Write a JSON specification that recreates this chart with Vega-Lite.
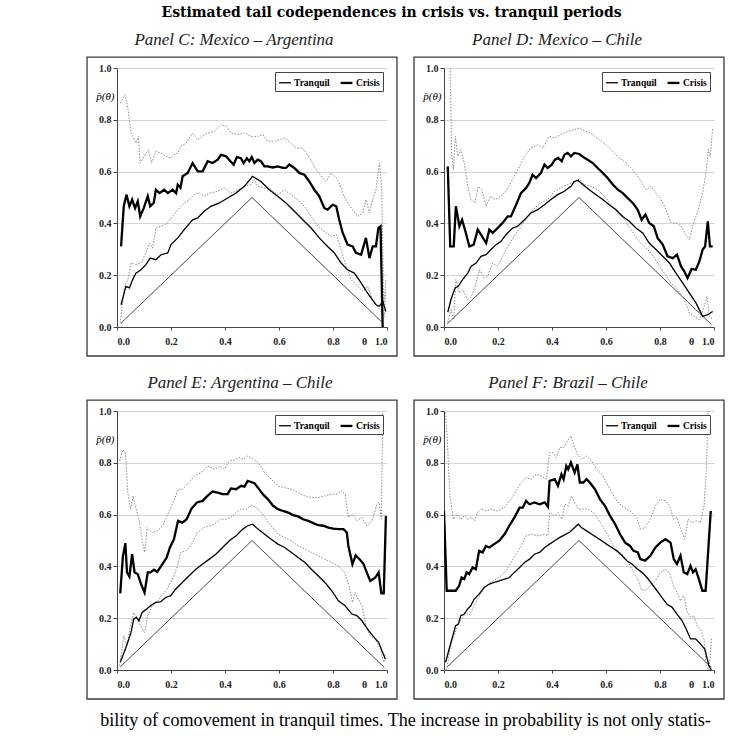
{
  "$schema": "https://vega.github.io/schema/vega-lite/v6.json",
  "background": "white",
  "padding": {"left": 86, "top": 6, "right": 8, "bottom": 4},
  "title": {"text": "Estimated tail codependences in crisis vs. tranquil periods", "font": "DejaVu Serif", "fontStyle": "normal", "fontWeight": "bold", "fontSize": 14, "color": "black", "offset": 11, "dx": -14},
  "datasets": {
    "C": [
      {"s":"Bench","t":0.015,"v":0.015},{"s":"Bench","t":0.5,"v":0.5},{"s":"Bench","t":0.985,"v":0.015},
      {"s":"Tranquil","t":0.015,"v":0.086},{"s":"Tranquil","t":0.033,"v":0.157},{"s":"Tranquil","t":0.046,"v":0.151},{"s":"Tranquil","t":0.058,"v":0.183},{"s":"Tranquil","t":0.07,"v":0.208},{"s":"Tranquil","t":0.089,"v":0.221},{"s":"Tranquil","t":0.107,"v":0.241},{"s":"Tranquil","t":0.123,"v":0.266},{"s":"Tranquil","t":0.144,"v":0.26},{"s":"Tranquil","t":0.163,"v":0.279},{"s":"Tranquil","t":0.188,"v":0.286},{"s":"Tranquil","t":0.2,"v":0.318},{"s":"Tranquil","t":0.225,"v":0.344},{"s":"Tranquil","t":0.249,"v":0.376},{"s":"Tranquil","t":0.28,"v":0.414},{"s":"Tranquil","t":0.299,"v":0.421},{"s":"Tranquil","t":0.323,"v":0.447},{"s":"Tranquil","t":0.348,"v":0.466},{"s":"Tranquil","t":0.379,"v":0.479},{"s":"Tranquil","t":0.41,"v":0.498},{"s":"Tranquil","t":0.44,"v":0.517},{"s":"Tranquil","t":0.472,"v":0.543},{"s":"Tranquil","t":0.502,"v":0.582},{"s":"Tranquil","t":0.533,"v":0.562},{"s":"Tranquil","t":0.564,"v":0.53},{"s":"Tranquil","t":0.595,"v":0.505},{"s":"Tranquil","t":0.626,"v":0.479},{"s":"Tranquil","t":0.657,"v":0.447},{"s":"Tranquil","t":0.688,"v":0.414},{"s":"Tranquil","t":0.719,"v":0.382},{"s":"Tranquil","t":0.749,"v":0.344},{"s":"Tranquil","t":0.78,"v":0.311},{"s":"Tranquil","t":0.805,"v":0.286},{"s":"Tranquil","t":0.83,"v":0.247},{"s":"Tranquil","t":0.854,"v":0.221},{"s":"Tranquil","t":0.879,"v":0.208},{"s":"Tranquil","t":0.904,"v":0.17},{"s":"Tranquil","t":0.928,"v":0.131},{"s":"Tranquil","t":0.959,"v":0.086},{"s":"Tranquil","t":0.972,"v":0.08},{"s":"Tranquil","t":0.984,"v":0.099},{"s":"Tranquil","t":0.996,"v":0.06},
      {"s":"Crisis","t":0.015,"v":0.311},{"s":"Crisis","t":0.025,"v":0.466},{"s":"Crisis","t":0.035,"v":0.511},{"s":"Crisis","t":0.046,"v":0.466},{"s":"Crisis","t":0.056,"v":0.492},{"s":"Crisis","t":0.067,"v":0.459},{"s":"Crisis","t":0.077,"v":0.485},{"s":"Crisis","t":0.086,"v":0.427},{"s":"Crisis","t":0.099,"v":0.459},{"s":"Crisis","t":0.114,"v":0.505},{"s":"Crisis","t":0.123,"v":0.466},{"s":"Crisis","t":0.136,"v":0.479},{"s":"Crisis","t":0.144,"v":0.53},{"s":"Crisis","t":0.157,"v":0.517},{"s":"Crisis","t":0.175,"v":0.53},{"s":"Crisis","t":0.188,"v":0.517},{"s":"Crisis","t":0.206,"v":0.53},{"s":"Crisis","t":0.219,"v":0.517},{"s":"Crisis","t":0.225,"v":0.55},{"s":"Crisis","t":0.235,"v":0.537},{"s":"Crisis","t":0.243,"v":0.582},{"s":"Crisis","t":0.262,"v":0.595},{"s":"Crisis","t":0.28,"v":0.633},{"s":"Crisis","t":0.299,"v":0.601},{"s":"Crisis","t":0.317,"v":0.601},{"s":"Crisis","t":0.336,"v":0.64},{"s":"Crisis","t":0.354,"v":0.633},{"s":"Crisis","t":0.373,"v":0.646},{"s":"Crisis","t":0.385,"v":0.665},{"s":"Crisis","t":0.404,"v":0.659},{"s":"Crisis","t":0.42,"v":0.64},{"s":"Crisis","t":0.432,"v":0.627},{"s":"Crisis","t":0.444,"v":0.656},{"s":"Crisis","t":0.459,"v":0.652},{"s":"Crisis","t":0.469,"v":0.633},{"s":"Crisis","t":0.481,"v":0.652},{"s":"Crisis","t":0.49,"v":0.64},{"s":"Crisis","t":0.499,"v":0.656},{"s":"Crisis","t":0.509,"v":0.633},{"s":"Crisis","t":0.521,"v":0.646},{"s":"Crisis","t":0.533,"v":0.64},{"s":"Crisis","t":0.546,"v":0.62},{"s":"Crisis","t":0.558,"v":0.62},{"s":"Crisis","t":0.577,"v":0.616},{"s":"Crisis","t":0.595,"v":0.62},{"s":"Crisis","t":0.614,"v":0.614},{"s":"Crisis","t":0.626,"v":0.614},{"s":"Crisis","t":0.638,"v":0.627},{"s":"Crisis","t":0.657,"v":0.614},{"s":"Crisis","t":0.675,"v":0.595},{"s":"Crisis","t":0.694,"v":0.588},{"s":"Crisis","t":0.712,"v":0.562},{"s":"Crisis","t":0.731,"v":0.53},{"s":"Crisis","t":0.749,"v":0.505},{"s":"Crisis","t":0.768,"v":0.459},{"s":"Crisis","t":0.78,"v":0.453},{"s":"Crisis","t":0.799,"v":0.472},{"s":"Crisis","t":0.812,"v":0.466},{"s":"Crisis","t":0.823,"v":0.414},{"s":"Crisis","t":0.836,"v":0.363},{"s":"Crisis","t":0.854,"v":0.318},{"s":"Crisis","t":0.873,"v":0.311},{"s":"Crisis","t":0.885,"v":0.286},{"s":"Crisis","t":0.904,"v":0.279},{"s":"Crisis","t":0.922,"v":0.344},{"s":"Crisis","t":0.935,"v":0.266},{"s":"Crisis","t":0.947,"v":0.311},{"s":"Crisis","t":0.959,"v":0.311},{"s":"Crisis","t":0.968,"v":0.382},{"s":"Crisis","t":0.976,"v":0.389},{"s":"Crisis","t":0.984,"v":0.0},
      {"s":"Upper","t":0.012,"v":0.865},{"s":"Upper","t":0.03,"v":0.897},{"s":"Upper","t":0.04,"v":0.846},{"s":"Upper","t":0.052,"v":0.749},{"s":"Upper","t":0.07,"v":0.71},{"s":"Upper","t":0.079,"v":0.736},{"s":"Upper","t":0.086,"v":0.633},{"s":"Upper","t":0.101,"v":0.659},{"s":"Upper","t":0.116,"v":0.685},{"s":"Upper","t":0.128,"v":0.633},{"s":"Upper","t":0.144,"v":0.678},{"s":"Upper","t":0.163,"v":0.672},{"s":"Upper","t":0.181,"v":0.659},{"s":"Upper","t":0.2,"v":0.653},{"s":"Upper","t":0.212,"v":0.665},{"s":"Upper","t":0.225,"v":0.672},{"s":"Upper","t":0.237,"v":0.698},{"s":"Upper","t":0.256,"v":0.71},{"s":"Upper","t":0.28,"v":0.749},{"s":"Upper","t":0.299,"v":0.723},{"s":"Upper","t":0.317,"v":0.736},{"s":"Upper","t":0.336,"v":0.749},{"s":"Upper","t":0.36,"v":0.755},{"s":"Upper","t":0.385,"v":0.781},{"s":"Upper","t":0.404,"v":0.775},{"s":"Upper","t":0.422,"v":0.749},{"s":"Upper","t":0.447,"v":0.743},{"s":"Upper","t":0.472,"v":0.749},{"s":"Upper","t":0.496,"v":0.736},{"s":"Upper","t":0.521,"v":0.736},{"s":"Upper","t":0.54,"v":0.743},{"s":"Upper","t":0.558,"v":0.717},{"s":"Upper","t":0.583,"v":0.717},{"s":"Upper","t":0.601,"v":0.723},{"s":"Upper","t":0.62,"v":0.73},{"s":"Upper","t":0.644,"v":0.71},{"s":"Upper","t":0.663,"v":0.691},{"s":"Upper","t":0.688,"v":0.691},{"s":"Upper","t":0.706,"v":0.665},{"s":"Upper","t":0.725,"v":0.633},{"s":"Upper","t":0.743,"v":0.601},{"s":"Upper","t":0.762,"v":0.575},{"s":"Upper","t":0.774,"v":0.562},{"s":"Upper","t":0.793,"v":0.595},{"s":"Upper","t":0.812,"v":0.575},{"s":"Upper","t":0.823,"v":0.556},{"s":"Upper","t":0.84,"v":0.505},{"s":"Upper","t":0.854,"v":0.479},{"s":"Upper","t":0.873,"v":0.453},{"s":"Upper","t":0.891,"v":0.427},{"s":"Upper","t":0.91,"v":0.44},{"s":"Upper","t":0.922,"v":0.492},{"s":"Upper","t":0.935,"v":0.44},{"s":"Upper","t":0.947,"v":0.492},{"s":"Upper","t":0.959,"v":0.53},{"s":"Upper","t":0.972,"v":0.633},{"s":"Upper","t":0.98,"v":0.543},{"s":"Upper","t":0.988,"v":0.093},{"s":"Upper","t":0.996,"v":0.183},
      {"s":"Lower","t":0.012,"v":0.015},{"s":"Lower","t":0.027,"v":0.157},{"s":"Lower","t":0.04,"v":0.183},{"s":"Lower","t":0.052,"v":0.247},{"s":"Lower","t":0.07,"v":0.241},{"s":"Lower","t":0.089,"v":0.247},{"s":"Lower","t":0.107,"v":0.286},{"s":"Lower","t":0.12,"v":0.324},{"s":"Lower","t":0.132,"v":0.305},{"s":"Lower","t":0.144,"v":0.382},{"s":"Lower","t":0.163,"v":0.389},{"s":"Lower","t":0.188,"v":0.402},{"s":"Lower","t":0.206,"v":0.427},{"s":"Lower","t":0.225,"v":0.453},{"s":"Lower","t":0.249,"v":0.479},{"s":"Lower","t":0.268,"v":0.492},{"s":"Lower","t":0.286,"v":0.511},{"s":"Lower","t":0.305,"v":0.517},{"s":"Lower","t":0.323,"v":0.505},{"s":"Lower","t":0.342,"v":0.517},{"s":"Lower","t":0.373,"v":0.524},{"s":"Lower","t":0.398,"v":0.537},{"s":"Lower","t":0.422,"v":0.517},{"s":"Lower","t":0.447,"v":0.53},{"s":"Lower","t":0.472,"v":0.543},{"s":"Lower","t":0.496,"v":0.55},{"s":"Lower","t":0.509,"v":0.569},{"s":"Lower","t":0.521,"v":0.543},{"s":"Lower","t":0.546,"v":0.537},{"s":"Lower","t":0.57,"v":0.53},{"s":"Lower","t":0.595,"v":0.511},{"s":"Lower","t":0.62,"v":0.53},{"s":"Lower","t":0.644,"v":0.511},{"s":"Lower","t":0.669,"v":0.492},{"s":"Lower","t":0.694,"v":0.466},{"s":"Lower","t":0.719,"v":0.427},{"s":"Lower","t":0.743,"v":0.389},{"s":"Lower","t":0.768,"v":0.369},{"s":"Lower","t":0.793,"v":0.35},{"s":"Lower","t":0.812,"v":0.357},{"s":"Lower","t":0.83,"v":0.299},{"s":"Lower","t":0.848,"v":0.234},{"s":"Lower","t":0.867,"v":0.183},{"s":"Lower","t":0.891,"v":0.157},{"s":"Lower","t":0.91,"v":0.138},{"s":"Lower","t":0.928,"v":0.157},{"s":"Lower","t":0.947,"v":0.106},{"s":"Lower","t":0.965,"v":0.08},{"s":"Lower","t":0.978,"v":0.06},{"s":"Lower","t":0.99,"v":0.041},{"s":"Lower","t":0.996,"v":0.144}
    ],
    "D": [
      {"s":"Bench","t":0.012,"v":0.012},{"s":"Bench","t":0.5,"v":0.5},{"s":"Bench","t":0.99,"v":0.01},
      {"s":"Tranquil","t":0.014,"v":0.057},{"s":"Tranquil","t":0.026,"v":0.106},{"s":"Tranquil","t":0.041,"v":0.151},{"s":"Tranquil","t":0.053,"v":0.157},{"s":"Tranquil","t":0.069,"v":0.183},{"s":"Tranquil","t":0.088,"v":0.208},{"s":"Tranquil","t":0.1,"v":0.234},{"s":"Tranquil","t":0.119,"v":0.247},{"s":"Tranquil","t":0.137,"v":0.273},{"s":"Tranquil","t":0.156,"v":0.279},{"s":"Tranquil","t":0.174,"v":0.299},{"s":"Tranquil","t":0.193,"v":0.318},{"s":"Tranquil","t":0.211,"v":0.331},{"s":"Tranquil","t":0.23,"v":0.357},{"s":"Tranquil","t":0.254,"v":0.382},{"s":"Tranquil","t":0.273,"v":0.389},{"s":"Tranquil","t":0.298,"v":0.414},{"s":"Tranquil","t":0.322,"v":0.44},{"s":"Tranquil","t":0.347,"v":0.453},{"s":"Tranquil","t":0.372,"v":0.472},{"s":"Tranquil","t":0.396,"v":0.492},{"s":"Tranquil","t":0.421,"v":0.511},{"s":"Tranquil","t":0.446,"v":0.524},{"s":"Tranquil","t":0.47,"v":0.543},{"s":"Tranquil","t":0.483,"v":0.562},{"s":"Tranquil","t":0.497,"v":0.566},{"s":"Tranquil","t":0.514,"v":0.55},{"s":"Tranquil","t":0.538,"v":0.53},{"s":"Tranquil","t":0.563,"v":0.511},{"s":"Tranquil","t":0.588,"v":0.492},{"s":"Tranquil","t":0.612,"v":0.472},{"s":"Tranquil","t":0.637,"v":0.453},{"s":"Tranquil","t":0.662,"v":0.427},{"s":"Tranquil","t":0.686,"v":0.408},{"s":"Tranquil","t":0.711,"v":0.382},{"s":"Tranquil","t":0.736,"v":0.363},{"s":"Tranquil","t":0.76,"v":0.324},{"s":"Tranquil","t":0.785,"v":0.299},{"s":"Tranquil","t":0.81,"v":0.273},{"s":"Tranquil","t":0.835,"v":0.247},{"s":"Tranquil","t":0.859,"v":0.208},{"s":"Tranquil","t":0.884,"v":0.17},{"s":"Tranquil","t":0.909,"v":0.131},{"s":"Tranquil","t":0.933,"v":0.093},{"s":"Tranquil","t":0.958,"v":0.041},{"s":"Tranquil","t":0.977,"v":0.048},{"s":"Tranquil","t":0.995,"v":0.06},
      {"s":"Crisis","t":0.014,"v":0.62},{"s":"Crisis","t":0.023,"v":0.311},{"s":"Crisis","t":0.036,"v":0.311},{"s":"Crisis","t":0.044,"v":0.466},{"s":"Crisis","t":0.057,"v":0.389},{"s":"Crisis","t":0.067,"v":0.414},{"s":"Crisis","t":0.081,"v":0.363},{"s":"Crisis","t":0.094,"v":0.311},{"s":"Crisis","t":0.11,"v":0.318},{"s":"Crisis","t":0.125,"v":0.376},{"s":"Crisis","t":0.137,"v":0.357},{"s":"Crisis","t":0.156,"v":0.324},{"s":"Crisis","t":0.168,"v":0.376},{"s":"Crisis","t":0.18,"v":0.363},{"s":"Crisis","t":0.193,"v":0.376},{"s":"Crisis","t":0.205,"v":0.389},{"s":"Crisis","t":0.217,"v":0.402},{"s":"Crisis","t":0.236,"v":0.427},{"s":"Crisis","t":0.248,"v":0.427},{"s":"Crisis","t":0.267,"v":0.472},{"s":"Crisis","t":0.285,"v":0.517},{"s":"Crisis","t":0.304,"v":0.537},{"s":"Crisis","t":0.316,"v":0.556},{"s":"Crisis","t":0.328,"v":0.588},{"s":"Crisis","t":0.341,"v":0.575},{"s":"Crisis","t":0.359,"v":0.595},{"s":"Crisis","t":0.372,"v":0.627},{"s":"Crisis","t":0.384,"v":0.614},{"s":"Crisis","t":0.399,"v":0.627},{"s":"Crisis","t":0.411,"v":0.646},{"s":"Crisis","t":0.423,"v":0.653},{"s":"Crisis","t":0.436,"v":0.64},{"s":"Crisis","t":0.446,"v":0.665},{"s":"Crisis","t":0.458,"v":0.672},{"s":"Crisis","t":0.47,"v":0.659},{"s":"Crisis","t":0.483,"v":0.672},{"s":"Crisis","t":0.501,"v":0.668},{"s":"Crisis","t":0.52,"v":0.653},{"s":"Crisis","t":0.532,"v":0.646},{"s":"Crisis","t":0.551,"v":0.633},{"s":"Crisis","t":0.569,"v":0.614},{"s":"Crisis","t":0.588,"v":0.595},{"s":"Crisis","t":0.606,"v":0.575},{"s":"Crisis","t":0.625,"v":0.55},{"s":"Crisis","t":0.644,"v":0.53},{"s":"Crisis","t":0.662,"v":0.517},{"s":"Crisis","t":0.68,"v":0.498},{"s":"Crisis","t":0.699,"v":0.479},{"s":"Crisis","t":0.717,"v":0.453},{"s":"Crisis","t":0.732,"v":0.414},{"s":"Crisis","t":0.746,"v":0.434},{"s":"Crisis","t":0.76,"v":0.402},{"s":"Crisis","t":0.777,"v":0.389},{"s":"Crisis","t":0.791,"v":0.344},{"s":"Crisis","t":0.81,"v":0.318},{"s":"Crisis","t":0.828,"v":0.273},{"s":"Crisis","t":0.847,"v":0.266},{"s":"Crisis","t":0.863,"v":0.279},{"s":"Crisis","t":0.878,"v":0.234},{"s":"Crisis","t":0.89,"v":0.215},{"s":"Crisis","t":0.902,"v":0.189},{"s":"Crisis","t":0.917,"v":0.224},{"s":"Crisis","t":0.933,"v":0.221},{"s":"Crisis","t":0.946,"v":0.254},{"s":"Crisis","t":0.958,"v":0.299},{"s":"Crisis","t":0.967,"v":0.311},{"s":"Crisis","t":0.977,"v":0.408},{"s":"Crisis","t":0.985,"v":0.311},{"s":"Crisis","t":0.995,"v":0.311},
      {"s":"Upper","t":0.023,"v":1.0},{"s":"Upper","t":0.028,"v":0.672},{"s":"Upper","t":0.035,"v":0.607},{"s":"Upper","t":0.042,"v":0.736},{"s":"Upper","t":0.051,"v":0.659},{"s":"Upper","t":0.063,"v":0.685},{"s":"Upper","t":0.075,"v":0.633},{"s":"Upper","t":0.088,"v":0.543},{"s":"Upper","t":0.1,"v":0.492},{"s":"Upper","t":0.115,"v":0.479},{"s":"Upper","t":0.127,"v":0.543},{"s":"Upper","t":0.14,"v":0.53},{"s":"Upper","t":0.156,"v":0.466},{"s":"Upper","t":0.172,"v":0.505},{"s":"Upper","t":0.189,"v":0.492},{"s":"Upper","t":0.211,"v":0.505},{"s":"Upper","t":0.233,"v":0.53},{"s":"Upper","t":0.254,"v":0.569},{"s":"Upper","t":0.273,"v":0.607},{"s":"Upper","t":0.298,"v":0.659},{"s":"Upper","t":0.322,"v":0.691},{"s":"Upper","t":0.347,"v":0.704},{"s":"Upper","t":0.365,"v":0.691},{"s":"Upper","t":0.39,"v":0.736},{"s":"Upper","t":0.409,"v":0.73},{"s":"Upper","t":0.433,"v":0.743},{"s":"Upper","t":0.458,"v":0.755},{"s":"Upper","t":0.483,"v":0.762},{"s":"Upper","t":0.501,"v":0.768},{"s":"Upper","t":0.526,"v":0.755},{"s":"Upper","t":0.551,"v":0.743},{"s":"Upper","t":0.575,"v":0.723},{"s":"Upper","t":0.6,"v":0.704},{"s":"Upper","t":0.625,"v":0.678},{"s":"Upper","t":0.649,"v":0.653},{"s":"Upper","t":0.674,"v":0.633},{"s":"Upper","t":0.699,"v":0.607},{"s":"Upper","t":0.723,"v":0.575},{"s":"Upper","t":0.748,"v":0.53},{"s":"Upper","t":0.767,"v":0.543},{"s":"Upper","t":0.785,"v":0.517},{"s":"Upper","t":0.804,"v":0.492},{"s":"Upper","t":0.822,"v":0.453},{"s":"Upper","t":0.841,"v":0.402},{"s":"Upper","t":0.859,"v":0.402},{"s":"Upper","t":0.878,"v":0.389},{"s":"Upper","t":0.896,"v":0.357},{"s":"Upper","t":0.909,"v":0.337},{"s":"Upper","t":0.921,"v":0.389},{"s":"Upper","t":0.94,"v":0.447},{"s":"Upper","t":0.958,"v":0.517},{"s":"Upper","t":0.97,"v":0.595},{"s":"Upper","t":0.979,"v":0.685},{"s":"Upper","t":0.986,"v":0.659},{"s":"Upper","t":0.995,"v":0.768},
      {"s":"Lower","t":0.014,"v":0.018},{"s":"Lower","t":0.026,"v":0.067},{"s":"Lower","t":0.036,"v":0.028},{"s":"Lower","t":0.044,"v":0.183},{"s":"Lower","t":0.057,"v":0.131},{"s":"Lower","t":0.069,"v":0.144},{"s":"Lower","t":0.088,"v":0.106},{"s":"Lower","t":0.102,"v":0.118},{"s":"Lower","t":0.119,"v":0.17},{"s":"Lower","t":0.131,"v":0.221},{"s":"Lower","t":0.147,"v":0.189},{"s":"Lower","t":0.162,"v":0.196},{"s":"Lower","t":0.18,"v":0.247},{"s":"Lower","t":0.199,"v":0.234},{"s":"Lower","t":0.217,"v":0.273},{"s":"Lower","t":0.236,"v":0.311},{"s":"Lower","t":0.26,"v":0.35},{"s":"Lower","t":0.285,"v":0.389},{"s":"Lower","t":0.31,"v":0.427},{"s":"Lower","t":0.335,"v":0.459},{"s":"Lower","t":0.359,"v":0.479},{"s":"Lower","t":0.384,"v":0.492},{"s":"Lower","t":0.409,"v":0.524},{"s":"Lower","t":0.433,"v":0.537},{"s":"Lower","t":0.458,"v":0.55},{"s":"Lower","t":0.483,"v":0.562},{"s":"Lower","t":0.501,"v":0.571},{"s":"Lower","t":0.52,"v":0.55},{"s":"Lower","t":0.544,"v":0.543},{"s":"Lower","t":0.569,"v":0.53},{"s":"Lower","t":0.594,"v":0.505},{"s":"Lower","t":0.619,"v":0.472},{"s":"Lower","t":0.643,"v":0.44},{"s":"Lower","t":0.668,"v":0.414},{"s":"Lower","t":0.693,"v":0.376},{"s":"Lower","t":0.717,"v":0.337},{"s":"Lower","t":0.742,"v":0.311},{"s":"Lower","t":0.767,"v":0.286},{"s":"Lower","t":0.791,"v":0.247},{"s":"Lower","t":0.816,"v":0.208},{"s":"Lower","t":0.841,"v":0.17},{"s":"Lower","t":0.865,"v":0.144},{"s":"Lower","t":0.89,"v":0.106},{"s":"Lower","t":0.909,"v":0.054},{"s":"Lower","t":0.927,"v":0.041},{"s":"Lower","t":0.946,"v":0.028},{"s":"Lower","t":0.964,"v":0.08},{"s":"Lower","t":0.974,"v":0.118},{"s":"Lower","t":0.983,"v":0.041},{"s":"Lower","t":0.995,"v":0.028}
    ],
    "E": [
      {"s":"Bench","t":0.012,"v":0.012},{"s":"Bench","t":0.5,"v":0.5},{"s":"Bench","t":0.99,"v":0.01},
      {"s":"Tranquil","t":0.012,"v":0.03},{"s":"Tranquil","t":0.031,"v":0.081},{"s":"Tranquil","t":0.044,"v":0.12},{"s":"Tranquil","t":0.052,"v":0.145},{"s":"Tranquil","t":0.062,"v":0.197},{"s":"Tranquil","t":0.072,"v":0.203},{"s":"Tranquil","t":0.081,"v":0.19},{"s":"Tranquil","t":0.093,"v":0.222},{"s":"Tranquil","t":0.109,"v":0.235},{"s":"Tranquil","t":0.124,"v":0.248},{"s":"Tranquil","t":0.143,"v":0.261},{"s":"Tranquil","t":0.161,"v":0.263},{"s":"Tranquil","t":0.18,"v":0.28},{"s":"Tranquil","t":0.199,"v":0.287},{"s":"Tranquil","t":0.217,"v":0.312},{"s":"Tranquil","t":0.242,"v":0.338},{"s":"Tranquil","t":0.267,"v":0.364},{"s":"Tranquil","t":0.292,"v":0.389},{"s":"Tranquil","t":0.317,"v":0.409},{"s":"Tranquil","t":0.342,"v":0.428},{"s":"Tranquil","t":0.366,"v":0.447},{"s":"Tranquil","t":0.391,"v":0.473},{"s":"Tranquil","t":0.416,"v":0.499},{"s":"Tranquil","t":0.441,"v":0.518},{"s":"Tranquil","t":0.466,"v":0.544},{"s":"Tranquil","t":0.484,"v":0.557},{"s":"Tranquil","t":0.503,"v":0.563},{"s":"Tranquil","t":0.522,"v":0.544},{"s":"Tranquil","t":0.547,"v":0.524},{"s":"Tranquil","t":0.571,"v":0.505},{"s":"Tranquil","t":0.596,"v":0.486},{"s":"Tranquil","t":0.621,"v":0.473},{"s":"Tranquil","t":0.646,"v":0.454},{"s":"Tranquil","t":0.671,"v":0.434},{"s":"Tranquil","t":0.696,"v":0.415},{"s":"Tranquil","t":0.72,"v":0.389},{"s":"Tranquil","t":0.745,"v":0.364},{"s":"Tranquil","t":0.77,"v":0.338},{"s":"Tranquil","t":0.795,"v":0.306},{"s":"Tranquil","t":0.82,"v":0.267},{"s":"Tranquil","t":0.845,"v":0.248},{"s":"Tranquil","t":0.87,"v":0.216},{"s":"Tranquil","t":0.888,"v":0.21},{"s":"Tranquil","t":0.907,"v":0.19},{"s":"Tranquil","t":0.932,"v":0.152},{"s":"Tranquil","t":0.957,"v":0.12},{"s":"Tranquil","t":0.969,"v":0.107},{"s":"Tranquil","t":0.981,"v":0.075},{"s":"Tranquil","t":0.994,"v":0.042},
      {"s":"Crisis","t":0.012,"v":0.296},{"s":"Crisis","t":0.022,"v":0.44},{"s":"Crisis","t":0.031,"v":0.49},{"s":"Crisis","t":0.037,"v":0.377},{"s":"Crisis","t":0.046,"v":0.361},{"s":"Crisis","t":0.056,"v":0.447},{"s":"Crisis","t":0.065,"v":0.377},{"s":"Crisis","t":0.077,"v":0.37},{"s":"Crisis","t":0.089,"v":0.332},{"s":"Crisis","t":0.102,"v":0.299},{"s":"Crisis","t":0.114,"v":0.377},{"s":"Crisis","t":0.124,"v":0.377},{"s":"Crisis","t":0.137,"v":0.387},{"s":"Crisis","t":0.149,"v":0.379},{"s":"Crisis","t":0.164,"v":0.402},{"s":"Crisis","t":0.184,"v":0.434},{"s":"Crisis","t":0.196,"v":0.473},{"s":"Crisis","t":0.211,"v":0.505},{"s":"Crisis","t":0.226,"v":0.576},{"s":"Crisis","t":0.242,"v":0.569},{"s":"Crisis","t":0.258,"v":0.582},{"s":"Crisis","t":0.276,"v":0.623},{"s":"Crisis","t":0.296,"v":0.647},{"s":"Crisis","t":0.317,"v":0.653},{"s":"Crisis","t":0.335,"v":0.672},{"s":"Crisis","t":0.354,"v":0.689},{"s":"Crisis","t":0.373,"v":0.685},{"s":"Crisis","t":0.391,"v":0.679},{"s":"Crisis","t":0.41,"v":0.679},{"s":"Crisis","t":0.422,"v":0.701},{"s":"Crisis","t":0.441,"v":0.698},{"s":"Crisis","t":0.46,"v":0.711},{"s":"Crisis","t":0.472,"v":0.708},{"s":"Crisis","t":0.484,"v":0.73},{"s":"Crisis","t":0.497,"v":0.726},{"s":"Crisis","t":0.509,"v":0.721},{"s":"Crisis","t":0.522,"v":0.704},{"s":"Crisis","t":0.54,"v":0.679},{"s":"Crisis","t":0.559,"v":0.659},{"s":"Crisis","t":0.578,"v":0.634},{"s":"Crisis","t":0.596,"v":0.621},{"s":"Crisis","t":0.615,"v":0.614},{"s":"Crisis","t":0.634,"v":0.608},{"s":"Crisis","t":0.652,"v":0.598},{"s":"Crisis","t":0.671,"v":0.593},{"s":"Crisis","t":0.689,"v":0.582},{"s":"Crisis","t":0.708,"v":0.576},{"s":"Crisis","t":0.727,"v":0.567},{"s":"Crisis","t":0.745,"v":0.559},{"s":"Crisis","t":0.764,"v":0.557},{"s":"Crisis","t":0.783,"v":0.55},{"s":"Crisis","t":0.801,"v":0.546},{"s":"Crisis","t":0.82,"v":0.544},{"s":"Crisis","t":0.839,"v":0.544},{"s":"Crisis","t":0.851,"v":0.531},{"s":"Crisis","t":0.857,"v":0.479},{"s":"Crisis","t":0.872,"v":0.409},{"s":"Crisis","t":0.884,"v":0.443},{"s":"Crisis","t":0.901,"v":0.425},{"s":"Crisis","t":0.913,"v":0.409},{"s":"Crisis","t":0.925,"v":0.377},{"s":"Crisis","t":0.938,"v":0.344},{"s":"Crisis","t":0.957,"v":0.357},{"s":"Crisis","t":0.969,"v":0.377},{"s":"Crisis","t":0.979,"v":0.296},{"s":"Crisis","t":0.988,"v":0.296},{"s":"Crisis","t":0.996,"v":0.595},
      {"s":"Upper","t":0.01,"v":0.807},{"s":"Upper","t":0.022,"v":0.85},{"s":"Upper","t":0.031,"v":0.839},{"s":"Upper","t":0.04,"v":0.685},{"s":"Upper","t":0.05,"v":0.621},{"s":"Upper","t":0.06,"v":0.672},{"s":"Upper","t":0.068,"v":0.634},{"s":"Upper","t":0.081,"v":0.582},{"s":"Upper","t":0.093,"v":0.505},{"s":"Upper","t":0.102,"v":0.454},{"s":"Upper","t":0.112,"v":0.55},{"s":"Upper","t":0.13,"v":0.531},{"s":"Upper","t":0.149,"v":0.537},{"s":"Upper","t":0.168,"v":0.556},{"s":"Upper","t":0.186,"v":0.595},{"s":"Upper","t":0.211,"v":0.653},{"s":"Upper","t":0.226,"v":0.698},{"s":"Upper","t":0.242,"v":0.698},{"s":"Upper","t":0.267,"v":0.724},{"s":"Upper","t":0.286,"v":0.749},{"s":"Upper","t":0.311,"v":0.762},{"s":"Upper","t":0.335,"v":0.788},{"s":"Upper","t":0.36,"v":0.775},{"s":"Upper","t":0.383,"v":0.788},{"s":"Upper","t":0.398,"v":0.775},{"s":"Upper","t":0.416,"v":0.807},{"s":"Upper","t":0.435,"v":0.811},{"s":"Upper","t":0.453,"v":0.82},{"s":"Upper","t":0.466,"v":0.814},{"s":"Upper","t":0.484,"v":0.826},{"s":"Upper","t":0.503,"v":0.816},{"s":"Upper","t":0.522,"v":0.801},{"s":"Upper","t":0.547,"v":0.762},{"s":"Upper","t":0.571,"v":0.737},{"s":"Upper","t":0.596,"v":0.711},{"s":"Upper","t":0.621,"v":0.704},{"s":"Upper","t":0.646,"v":0.698},{"s":"Upper","t":0.671,"v":0.685},{"s":"Upper","t":0.696,"v":0.672},{"s":"Upper","t":0.72,"v":0.666},{"s":"Upper","t":0.745,"v":0.666},{"s":"Upper","t":0.77,"v":0.672},{"s":"Upper","t":0.795,"v":0.679},{"s":"Upper","t":0.814,"v":0.679},{"s":"Upper","t":0.83,"v":0.692},{"s":"Upper","t":0.845,"v":0.679},{"s":"Upper","t":0.857,"v":0.589},{"s":"Upper","t":0.872,"v":0.602},{"s":"Upper","t":0.888,"v":0.576},{"s":"Upper","t":0.907,"v":0.589},{"s":"Upper","t":0.925,"v":0.556},{"s":"Upper","t":0.944,"v":0.576},{"s":"Upper","t":0.963,"v":0.64},{"s":"Upper","t":0.971,"v":0.647},{"s":"Upper","t":0.979,"v":0.582},{"s":"Upper","t":0.984,"v":0.994},
      {"s":"Lower","t":0.01,"v":0.017},{"s":"Lower","t":0.025,"v":0.132},{"s":"Lower","t":0.037,"v":0.094},{"s":"Lower","t":0.05,"v":0.171},{"s":"Lower","t":0.062,"v":0.222},{"s":"Lower","t":0.077,"v":0.197},{"s":"Lower","t":0.093,"v":0.158},{"s":"Lower","t":0.102,"v":0.145},{"s":"Lower","t":0.114,"v":0.21},{"s":"Lower","t":0.13,"v":0.248},{"s":"Lower","t":0.149,"v":0.261},{"s":"Lower","t":0.168,"v":0.293},{"s":"Lower","t":0.186,"v":0.312},{"s":"Lower","t":0.211,"v":0.364},{"s":"Lower","t":0.224,"v":0.402},{"s":"Lower","t":0.236,"v":0.454},{"s":"Lower","t":0.255,"v":0.46},{"s":"Lower","t":0.273,"v":0.479},{"s":"Lower","t":0.298,"v":0.531},{"s":"Lower","t":0.323,"v":0.55},{"s":"Lower","t":0.342,"v":0.556},{"s":"Lower","t":0.36,"v":0.563},{"s":"Lower","t":0.383,"v":0.582},{"s":"Lower","t":0.404,"v":0.582},{"s":"Lower","t":0.422,"v":0.589},{"s":"Lower","t":0.441,"v":0.608},{"s":"Lower","t":0.46,"v":0.621},{"s":"Lower","t":0.478,"v":0.621},{"s":"Lower","t":0.497,"v":0.636},{"s":"Lower","t":0.516,"v":0.627},{"s":"Lower","t":0.534,"v":0.608},{"s":"Lower","t":0.553,"v":0.582},{"s":"Lower","t":0.571,"v":0.556},{"s":"Lower","t":0.596,"v":0.524},{"s":"Lower","t":0.621,"v":0.512},{"s":"Lower","t":0.646,"v":0.499},{"s":"Lower","t":0.671,"v":0.479},{"s":"Lower","t":0.696,"v":0.467},{"s":"Lower","t":0.72,"v":0.454},{"s":"Lower","t":0.745,"v":0.441},{"s":"Lower","t":0.77,"v":0.428},{"s":"Lower","t":0.795,"v":0.415},{"s":"Lower","t":0.82,"v":0.402},{"s":"Lower","t":0.842,"v":0.377},{"s":"Lower","t":0.86,"v":0.325},{"s":"Lower","t":0.872,"v":0.261},{"s":"Lower","t":0.882,"v":0.299},{"s":"Lower","t":0.894,"v":0.274},{"s":"Lower","t":0.907,"v":0.248},{"s":"Lower","t":0.922,"v":0.171},{"s":"Lower","t":0.938,"v":0.132},{"s":"Lower","t":0.957,"v":0.12},{"s":"Lower","t":0.975,"v":0.081},{"s":"Lower","t":0.988,"v":0.03},{"s":"Lower","t":0.994,"v":0.068}
    ],
    "F": [
      {"s":"Bench","t":0.01,"v":0.01},{"s":"Bench","t":0.5,"v":0.5},{"s":"Bench","t":0.99,"v":0.01},
      {"s":"Tranquil","t":0.006,"v":0.03},{"s":"Tranquil","t":0.019,"v":0.081},{"s":"Tranquil","t":0.031,"v":0.126},{"s":"Tranquil","t":0.043,"v":0.171},{"s":"Tranquil","t":0.053,"v":0.177},{"s":"Tranquil","t":0.062,"v":0.21},{"s":"Tranquil","t":0.075,"v":0.216},{"s":"Tranquil","t":0.087,"v":0.235},{"s":"Tranquil","t":0.099,"v":0.248},{"s":"Tranquil","t":0.112,"v":0.274},{"s":"Tranquil","t":0.13,"v":0.293},{"s":"Tranquil","t":0.149,"v":0.319},{"s":"Tranquil","t":0.168,"v":0.332},{"s":"Tranquil","t":0.186,"v":0.338},{"s":"Tranquil","t":0.205,"v":0.344},{"s":"Tranquil","t":0.224,"v":0.351},{"s":"Tranquil","t":0.242,"v":0.357},{"s":"Tranquil","t":0.261,"v":0.377},{"s":"Tranquil","t":0.28,"v":0.396},{"s":"Tranquil","t":0.298,"v":0.415},{"s":"Tranquil","t":0.317,"v":0.428},{"s":"Tranquil","t":0.335,"v":0.447},{"s":"Tranquil","t":0.354,"v":0.454},{"s":"Tranquil","t":0.373,"v":0.473},{"s":"Tranquil","t":0.391,"v":0.486},{"s":"Tranquil","t":0.41,"v":0.499},{"s":"Tranquil","t":0.429,"v":0.512},{"s":"Tranquil","t":0.447,"v":0.522},{"s":"Tranquil","t":0.466,"v":0.533},{"s":"Tranquil","t":0.484,"v":0.55},{"s":"Tranquil","t":0.497,"v":0.563},{"s":"Tranquil","t":0.509,"v":0.55},{"s":"Tranquil","t":0.528,"v":0.537},{"s":"Tranquil","t":0.547,"v":0.524},{"s":"Tranquil","t":0.565,"v":0.512},{"s":"Tranquil","t":0.584,"v":0.499},{"s":"Tranquil","t":0.602,"v":0.486},{"s":"Tranquil","t":0.621,"v":0.473},{"s":"Tranquil","t":0.64,"v":0.46},{"s":"Tranquil","t":0.658,"v":0.443},{"s":"Tranquil","t":0.677,"v":0.422},{"s":"Tranquil","t":0.696,"v":0.409},{"s":"Tranquil","t":0.714,"v":0.392},{"s":"Tranquil","t":0.733,"v":0.377},{"s":"Tranquil","t":0.752,"v":0.357},{"s":"Tranquil","t":0.77,"v":0.332},{"s":"Tranquil","t":0.789,"v":0.306},{"s":"Tranquil","t":0.807,"v":0.28},{"s":"Tranquil","t":0.826,"v":0.254},{"s":"Tranquil","t":0.845,"v":0.242},{"s":"Tranquil","t":0.863,"v":0.216},{"s":"Tranquil","t":0.882,"v":0.19},{"s":"Tranquil","t":0.897,"v":0.158},{"s":"Tranquil","t":0.913,"v":0.12},{"s":"Tranquil","t":0.932,"v":0.12},{"s":"Tranquil","t":0.95,"v":0.1},{"s":"Tranquil","t":0.966,"v":0.081},{"s":"Tranquil","t":0.981,"v":0.017},{"s":"Tranquil","t":0.99,"v":0.0},
      {"s":"Crisis","t":0.0,"v":0.614},{"s":"Crisis","t":0.01,"v":0.306},{"s":"Crisis","t":0.025,"v":0.306},{"s":"Crisis","t":0.043,"v":0.306},{"s":"Crisis","t":0.056,"v":0.325},{"s":"Crisis","t":0.065,"v":0.357},{"s":"Crisis","t":0.075,"v":0.351},{"s":"Crisis","t":0.084,"v":0.377},{"s":"Crisis","t":0.093,"v":0.37},{"s":"Crisis","t":0.106,"v":0.396},{"s":"Crisis","t":0.118,"v":0.389},{"s":"Crisis","t":0.13,"v":0.46},{"s":"Crisis","t":0.143,"v":0.454},{"s":"Crisis","t":0.155,"v":0.479},{"s":"Crisis","t":0.168,"v":0.473},{"s":"Crisis","t":0.186,"v":0.486},{"s":"Crisis","t":0.205,"v":0.499},{"s":"Crisis","t":0.224,"v":0.524},{"s":"Crisis","t":0.242,"v":0.557},{"s":"Crisis","t":0.261,"v":0.589},{"s":"Crisis","t":0.28,"v":0.627},{"s":"Crisis","t":0.292,"v":0.627},{"s":"Crisis","t":0.304,"v":0.653},{"s":"Crisis","t":0.317,"v":0.64},{"s":"Crisis","t":0.335,"v":0.647},{"s":"Crisis","t":0.354,"v":0.64},{"s":"Crisis","t":0.373,"v":0.647},{"s":"Crisis","t":0.385,"v":0.63},{"s":"Crisis","t":0.391,"v":0.73},{"s":"Crisis","t":0.41,"v":0.737},{"s":"Crisis","t":0.422,"v":0.711},{"s":"Crisis","t":0.435,"v":0.756},{"s":"Crisis","t":0.443,"v":0.737},{"s":"Crisis","t":0.453,"v":0.788},{"s":"Crisis","t":0.46,"v":0.775},{"s":"Crisis","t":0.47,"v":0.801},{"s":"Crisis","t":0.484,"v":0.762},{"s":"Crisis","t":0.494,"v":0.794},{"s":"Crisis","t":0.503,"v":0.724},{"s":"Crisis","t":0.516,"v":0.724},{"s":"Crisis","t":0.528,"v":0.737},{"s":"Crisis","t":0.54,"v":0.724},{"s":"Crisis","t":0.559,"v":0.698},{"s":"Crisis","t":0.578,"v":0.659},{"s":"Crisis","t":0.596,"v":0.634},{"s":"Crisis","t":0.615,"v":0.595},{"s":"Crisis","t":0.634,"v":0.563},{"s":"Crisis","t":0.652,"v":0.524},{"s":"Crisis","t":0.671,"v":0.492},{"s":"Crisis","t":0.689,"v":0.479},{"s":"Crisis","t":0.702,"v":0.46},{"s":"Crisis","t":0.718,"v":0.454},{"s":"Crisis","t":0.727,"v":0.428},{"s":"Crisis","t":0.745,"v":0.422},{"s":"Crisis","t":0.764,"v":0.441},{"s":"Crisis","t":0.783,"v":0.473},{"s":"Crisis","t":0.801,"v":0.492},{"s":"Crisis","t":0.82,"v":0.505},{"s":"Crisis","t":0.839,"v":0.492},{"s":"Crisis","t":0.851,"v":0.428},{"s":"Crisis","t":0.863,"v":0.409},{"s":"Crisis","t":0.876,"v":0.441},{"s":"Crisis","t":0.888,"v":0.377},{"s":"Crisis","t":0.901,"v":0.37},{"s":"Crisis","t":0.913,"v":0.402},{"s":"Crisis","t":0.922,"v":0.377},{"s":"Crisis","t":0.932,"v":0.389},{"s":"Crisis","t":0.944,"v":0.351},{"s":"Crisis","t":0.957,"v":0.306},{"s":"Crisis","t":0.969,"v":0.306},{"s":"Crisis","t":0.988,"v":0.614},
      {"s":"Upper","t":0.006,"v":0.994},{"s":"Upper","t":0.012,"v":0.891},{"s":"Upper","t":0.022,"v":0.672},{"s":"Upper","t":0.035,"v":0.582},{"s":"Upper","t":0.047,"v":0.602},{"s":"Upper","t":0.062,"v":0.582},{"s":"Upper","t":0.075,"v":0.595},{"s":"Upper","t":0.089,"v":0.582},{"s":"Upper","t":0.102,"v":0.589},{"s":"Upper","t":0.114,"v":0.576},{"s":"Upper","t":0.124,"v":0.608},{"s":"Upper","t":0.137,"v":0.621},{"s":"Upper","t":0.155,"v":0.614},{"s":"Upper","t":0.174,"v":0.621},{"s":"Upper","t":0.199,"v":0.614},{"s":"Upper","t":0.224,"v":0.627},{"s":"Upper","t":0.248,"v":0.659},{"s":"Upper","t":0.267,"v":0.692},{"s":"Upper","t":0.286,"v":0.724},{"s":"Upper","t":0.304,"v":0.743},{"s":"Upper","t":0.323,"v":0.737},{"s":"Upper","t":0.342,"v":0.756},{"s":"Upper","t":0.36,"v":0.749},{"s":"Upper","t":0.379,"v":0.737},{"s":"Upper","t":0.391,"v":0.839},{"s":"Upper","t":0.404,"v":0.839},{"s":"Upper","t":0.416,"v":0.82},{"s":"Upper","t":0.429,"v":0.859},{"s":"Upper","t":0.443,"v":0.859},{"s":"Upper","t":0.457,"v":0.884},{"s":"Upper","t":0.47,"v":0.904},{"s":"Upper","t":0.482,"v":0.865},{"s":"Upper","t":0.494,"v":0.833},{"s":"Upper","t":0.509,"v":0.814},{"s":"Upper","t":0.528,"v":0.826},{"s":"Upper","t":0.547,"v":0.807},{"s":"Upper","t":0.565,"v":0.775},{"s":"Upper","t":0.584,"v":0.756},{"s":"Upper","t":0.602,"v":0.724},{"s":"Upper","t":0.621,"v":0.685},{"s":"Upper","t":0.64,"v":0.653},{"s":"Upper","t":0.658,"v":0.634},{"s":"Upper","t":0.677,"v":0.621},{"s":"Upper","t":0.696,"v":0.608},{"s":"Upper","t":0.714,"v":0.589},{"s":"Upper","t":0.727,"v":0.544},{"s":"Upper","t":0.745,"v":0.55},{"s":"Upper","t":0.764,"v":0.582},{"s":"Upper","t":0.783,"v":0.634},{"s":"Upper","t":0.801,"v":0.659},{"s":"Upper","t":0.82,"v":0.653},{"s":"Upper","t":0.835,"v":0.634},{"s":"Upper","t":0.851,"v":0.582},{"s":"Upper","t":0.863,"v":0.589},{"s":"Upper","t":0.876,"v":0.544},{"s":"Upper","t":0.892,"v":0.505},{"s":"Upper","t":0.904,"v":0.582},{"s":"Upper","t":0.919,"v":0.569},{"s":"Upper","t":0.934,"v":0.576},{"s":"Upper","t":0.95,"v":0.569},{"s":"Upper","t":0.963,"v":0.634},{"s":"Upper","t":0.971,"v":0.762},{"s":"Upper","t":0.979,"v":1.0},
      {"s":"Lower","t":0.01,"v":0.0},{"s":"Lower","t":0.022,"v":0.081},{"s":"Lower","t":0.037,"v":0.132},{"s":"Lower","t":0.05,"v":0.171},{"s":"Lower","t":0.065,"v":0.197},{"s":"Lower","t":0.081,"v":0.222},{"s":"Lower","t":0.093,"v":0.21},{"s":"Lower","t":0.109,"v":0.242},{"s":"Lower","t":0.124,"v":0.274},{"s":"Lower","t":0.143,"v":0.306},{"s":"Lower","t":0.155,"v":0.325},{"s":"Lower","t":0.174,"v":0.338},{"s":"Lower","t":0.193,"v":0.351},{"s":"Lower","t":0.211,"v":0.364},{"s":"Lower","t":0.23,"v":0.383},{"s":"Lower","t":0.248,"v":0.415},{"s":"Lower","t":0.267,"v":0.447},{"s":"Lower","t":0.286,"v":0.479},{"s":"Lower","t":0.304,"v":0.518},{"s":"Lower","t":0.323,"v":0.524},{"s":"Lower","t":0.348,"v":0.518},{"s":"Lower","t":0.373,"v":0.524},{"s":"Lower","t":0.385,"v":0.518},{"s":"Lower","t":0.391,"v":0.608},{"s":"Lower","t":0.41,"v":0.595},{"s":"Lower","t":0.422,"v":0.608},{"s":"Lower","t":0.437,"v":0.582},{"s":"Lower","t":0.447,"v":0.64},{"s":"Lower","t":0.46,"v":0.634},{"s":"Lower","t":0.472,"v":0.672},{"s":"Lower","t":0.484,"v":0.647},{"s":"Lower","t":0.497,"v":0.621},{"s":"Lower","t":0.516,"v":0.621},{"s":"Lower","t":0.534,"v":0.621},{"s":"Lower","t":0.553,"v":0.608},{"s":"Lower","t":0.571,"v":0.582},{"s":"Lower","t":0.59,"v":0.55},{"s":"Lower","t":0.609,"v":0.518},{"s":"Lower","t":0.627,"v":0.479},{"s":"Lower","t":0.646,"v":0.46},{"s":"Lower","t":0.665,"v":0.441},{"s":"Lower","t":0.683,"v":0.415},{"s":"Lower","t":0.702,"v":0.377},{"s":"Lower","t":0.718,"v":0.351},{"s":"Lower","t":0.73,"v":0.312},{"s":"Lower","t":0.745,"v":0.306},{"s":"Lower","t":0.764,"v":0.325},{"s":"Lower","t":0.783,"v":0.344},{"s":"Lower","t":0.801,"v":0.377},{"s":"Lower","t":0.82,"v":0.389},{"s":"Lower","t":0.835,"v":0.377},{"s":"Lower","t":0.851,"v":0.325},{"s":"Lower","t":0.863,"v":0.299},{"s":"Lower","t":0.876,"v":0.267},{"s":"Lower","t":0.888,"v":0.287},{"s":"Lower","t":0.901,"v":0.222},{"s":"Lower","t":0.913,"v":0.203},{"s":"Lower","t":0.925,"v":0.21},{"s":"Lower","t":0.938,"v":0.171},{"s":"Lower","t":0.95,"v":0.158},{"s":"Lower","t":0.963,"v":0.12},{"s":"Lower","t":0.971,"v":0.017},{"s":"Lower","t":0.981,"v":0.0},{"s":"Lower","t":0.991,"v":0.12}
    ]
  },
  "vconcat": [
    {
      "title": {"text": "bility of comovement in tranquil times. The increase in probability is not only statis-", "orient": "bottom", "font": "Liberation Serif", "fontStyle": "normal", "fontWeight": "normal", "fontSize": 18.1, "color": "black", "offset": 12},
      "columns": 2,
      "spacing": {"row": 84, "column": 57},
      "bounds": "flush",
      "resolve": {"scale": {"strokeWidth": "independent"}, "legend": {"strokeWidth": "independent"}},
      "concat": [
        {
          "title": {"text": "Panel C: Mexico – Argentina", "dx": -18},
          "data": {"name": "C"},
          "width": 270, "height": 259,
          "layer": [
            {"data": {"values": [{}]}, "mark": {"type": "rect", "fill": null, "stroke": "#3a3a3a", "strokeWidth": 1.3},
             "encoding": {
               "x": {"datum": -0.111, "type": "quantitative", "scale": {"domain": [0, 1], "nice": false}, "axis": {"title": null, "values": [0, 0.2, 0.4, 0.6, 0.8, 0.915, 1], "labelExpr": "datum.value > 0.9 && datum.value < 0.95 ? 'θ' : format(datum.value, '.1f')", "tickOpacity": {"condition": {"test": "datum.value > 0.9 && datum.value < 0.95", "value": 0}, "value": 1}, "tickSize": 3, "labelPadding": 6}},
               "x2": {"datum": 1.037},
               "y": {"datum": 1.042, "type": "quantitative", "scale": {"domain": [0, 1], "nice": false}, "axis": {"title": "p̄(θ)", "values": [0, 0.2, 0.4, 0.6, 0.8, 1], "format": ".1f", "grid": true, "tickSize": 4, "labelPadding": 2, "titleAngle": 0, "titleAlign": "right", "titleBaseline": "middle", "titleX": -3, "titleY": 28, "titleFont": "Liberation Serif", "titleFontStyle": "italic", "titleFontWeight": "normal", "titleFontSize": 11}},
               "y2": {"datum": -0.112}}},
            {"transform": [{"filter": "datum.s === 'Bench'"}], "mark": {"type": "line", "color": "#333", "strokeWidth": 0.9, "clip": true},
             "encoding": {"x": {"field": "t", "type": "quantitative"}, "y": {"field": "v", "type": "quantitative"}}},
            {"transform": [{"filter": "datum.s === 'Upper' || datum.s === 'Lower'"}], "mark": {"type": "line", "color": "#8c8c8c", "strokeWidth": 1, "strokeDash": [1.5, 1.5], "clip": true},
             "encoding": {"x": {"field": "t", "type": "quantitative"}, "y": {"field": "v", "type": "quantitative"}, "detail": {"field": "s"}}},
            {"transform": [{"filter": "datum.s === 'Tranquil' || datum.s === 'Crisis'"}], "mark": {"type": "line", "color": "black", "clip": true},
             "encoding": {"x": {"field": "t", "type": "quantitative"}, "y": {"field": "v", "type": "quantitative"},
               "strokeWidth": {"field": "s", "type": "ordinal", "scale": {"domain": ["Tranquil", "Crisis"], "range": [1.3, 2.3]}, "legend": {"title": null}}}}
          ]
        },
        {
          "title": {"text": "Panel D: Mexico – Chile", "dx": -22},
          "data": {"name": "D"},
          "width": 270, "height": 259,
          "layer": [
            {"data": {"values": [{}]}, "mark": {"type": "rect", "fill": null, "stroke": "#3a3a3a", "strokeWidth": 1.3},
             "encoding": {
               "x": {"datum": -0.111, "type": "quantitative", "scale": {"domain": [0, 1], "nice": false}, "axis": {"title": null, "values": [0, 0.2, 0.4, 0.6, 0.8, 0.915, 1], "labelExpr": "datum.value > 0.9 && datum.value < 0.95 ? 'θ' : format(datum.value, '.1f')", "tickOpacity": {"condition": {"test": "datum.value > 0.9 && datum.value < 0.95", "value": 0}, "value": 1}, "tickSize": 3, "labelPadding": 6}},
               "x2": {"datum": 1.037},
               "y": {"datum": 1.042, "type": "quantitative", "scale": {"domain": [0, 1], "nice": false}, "axis": {"title": "p̄(θ)", "values": [0, 0.2, 0.4, 0.6, 0.8, 1], "format": ".1f", "grid": true, "tickSize": 4, "labelPadding": 2, "titleAngle": 0, "titleAlign": "right", "titleBaseline": "middle", "titleX": -3, "titleY": 28, "titleFont": "Liberation Serif", "titleFontStyle": "italic", "titleFontWeight": "normal", "titleFontSize": 11}},
               "y2": {"datum": -0.112}}},
            {"transform": [{"filter": "datum.s === 'Bench'"}], "mark": {"type": "line", "color": "#333", "strokeWidth": 0.9, "clip": true},
             "encoding": {"x": {"field": "t", "type": "quantitative"}, "y": {"field": "v", "type": "quantitative"}}},
            {"transform": [{"filter": "datum.s === 'Upper' || datum.s === 'Lower'"}], "mark": {"type": "line", "color": "#8c8c8c", "strokeWidth": 1, "strokeDash": [1.5, 1.5], "clip": true},
             "encoding": {"x": {"field": "t", "type": "quantitative"}, "y": {"field": "v", "type": "quantitative"}, "detail": {"field": "s"}}},
            {"transform": [{"filter": "datum.s === 'Tranquil' || datum.s === 'Crisis'"}], "mark": {"type": "line", "color": "black", "clip": true},
             "encoding": {"x": {"field": "t", "type": "quantitative"}, "y": {"field": "v", "type": "quantitative"},
               "strokeWidth": {"field": "s", "type": "ordinal", "scale": {"domain": ["Tranquil", "Crisis"], "range": [1.3, 2.3]}, "legend": {"title": null}}}}
          ]
        },
        {
          "title": {"text": "Panel E: Argentina – Chile", "dx": -12},
          "data": {"name": "E"},
          "width": 270, "height": 259,
          "layer": [
            {"data": {"values": [{}]}, "mark": {"type": "rect", "fill": null, "stroke": "#3a3a3a", "strokeWidth": 1.3},
             "encoding": {
               "x": {"datum": -0.111, "type": "quantitative", "scale": {"domain": [0, 1], "nice": false}, "axis": {"title": null, "values": [0, 0.2, 0.4, 0.6, 0.8, 0.915, 1], "labelExpr": "datum.value > 0.9 && datum.value < 0.95 ? 'θ' : format(datum.value, '.1f')", "tickOpacity": {"condition": {"test": "datum.value > 0.9 && datum.value < 0.95", "value": 0}, "value": 1}, "tickSize": 3, "labelPadding": 6}},
               "x2": {"datum": 1.037},
               "y": {"datum": 1.042, "type": "quantitative", "scale": {"domain": [0, 1], "nice": false}, "axis": {"title": "p̄(θ)", "values": [0, 0.2, 0.4, 0.6, 0.8, 1], "format": ".1f", "grid": true, "tickSize": 4, "labelPadding": 2, "titleAngle": 0, "titleAlign": "right", "titleBaseline": "middle", "titleX": -3, "titleY": 28, "titleFont": "Liberation Serif", "titleFontStyle": "italic", "titleFontWeight": "normal", "titleFontSize": 11}},
               "y2": {"datum": -0.112}}},
            {"transform": [{"filter": "datum.s === 'Bench'"}], "mark": {"type": "line", "color": "#333", "strokeWidth": 0.9, "clip": true},
             "encoding": {"x": {"field": "t", "type": "quantitative"}, "y": {"field": "v", "type": "quantitative"}}},
            {"transform": [{"filter": "datum.s === 'Upper' || datum.s === 'Lower'"}], "mark": {"type": "line", "color": "#8c8c8c", "strokeWidth": 1, "strokeDash": [1.5, 1.5], "clip": true},
             "encoding": {"x": {"field": "t", "type": "quantitative"}, "y": {"field": "v", "type": "quantitative"}, "detail": {"field": "s"}}},
            {"transform": [{"filter": "datum.s === 'Tranquil' || datum.s === 'Crisis'"}], "mark": {"type": "line", "color": "black", "clip": true},
             "encoding": {"x": {"field": "t", "type": "quantitative"}, "y": {"field": "v", "type": "quantitative"},
               "strokeWidth": {"field": "s", "type": "ordinal", "scale": {"domain": ["Tranquil", "Crisis"], "range": [1.3, 2.3]}, "legend": {"title": null}}}}
          ]
        },
        {
          "title": {"text": "Panel F: Brazil – Chile", "dx": -11},
          "data": {"name": "F"},
          "width": 270, "height": 259,
          "layer": [
            {"data": {"values": [{}]}, "mark": {"type": "rect", "fill": null, "stroke": "#3a3a3a", "strokeWidth": 1.3},
             "encoding": {
               "x": {"datum": -0.111, "type": "quantitative", "scale": {"domain": [0, 1], "nice": false}, "axis": {"title": null, "values": [0, 0.2, 0.4, 0.6, 0.8, 0.915, 1], "labelExpr": "datum.value > 0.9 && datum.value < 0.95 ? 'θ' : format(datum.value, '.1f')", "tickOpacity": {"condition": {"test": "datum.value > 0.9 && datum.value < 0.95", "value": 0}, "value": 1}, "tickSize": 3, "labelPadding": 6}},
               "x2": {"datum": 1.037},
               "y": {"datum": 1.042, "type": "quantitative", "scale": {"domain": [0, 1], "nice": false}, "axis": {"title": "p̄(θ)", "values": [0, 0.2, 0.4, 0.6, 0.8, 1], "format": ".1f", "grid": true, "tickSize": 4, "labelPadding": 2, "titleAngle": 0, "titleAlign": "right", "titleBaseline": "middle", "titleX": -3, "titleY": 28, "titleFont": "Liberation Serif", "titleFontStyle": "italic", "titleFontWeight": "normal", "titleFontSize": 11}},
               "y2": {"datum": -0.112}}},
            {"transform": [{"filter": "datum.s === 'Bench'"}], "mark": {"type": "line", "color": "#333", "strokeWidth": 0.9, "clip": true},
             "encoding": {"x": {"field": "t", "type": "quantitative"}, "y": {"field": "v", "type": "quantitative"}}},
            {"transform": [{"filter": "datum.s === 'Upper' || datum.s === 'Lower'"}], "mark": {"type": "line", "color": "#8c8c8c", "strokeWidth": 1, "strokeDash": [1.5, 1.5], "clip": true},
             "encoding": {"x": {"field": "t", "type": "quantitative"}, "y": {"field": "v", "type": "quantitative"}, "detail": {"field": "s"}}},
            {"transform": [{"filter": "datum.s === 'Tranquil' || datum.s === 'Crisis'"}], "mark": {"type": "line", "color": "black", "clip": true},
             "encoding": {"x": {"field": "t", "type": "quantitative"}, "y": {"field": "v", "type": "quantitative"},
               "strokeWidth": {"field": "s", "type": "ordinal", "scale": {"domain": ["Tranquil", "Crisis"], "range": [1.3, 2.3]}, "legend": {"title": null}}}}
          ]
        }
      ]
    }
  ],
  "config": {
    "view": {"stroke": null},
    "font": "Liberation Serif",
    "axis": {"domainColor": "#444", "domainWidth": 1, "tickColor": "#444", "labelFont": "Liberation Serif", "labelFontWeight": "bold", "labelFontSize": 10, "labelColor": "#222", "gridColor": "#d4d4d4", "grid": false},
    "legend": {"orient": "top-right", "direction": "horizontal", "offset": 4, "padding": 3, "strokeColor": "#444", "fillColor": "white", "symbolType": "stroke", "symbolSize": 140, "symbolStrokeColor": "black", "labelFont": "Liberation Serif", "labelFontWeight": "bold", "labelFontSize": 9.5, "labelColor": "black", "columnPadding": 5, "labelOffset": 2, "cornerRadius": 0},
    "title": {"font": "Liberation Serif", "fontStyle": "italic", "fontWeight": "normal", "fontSize": 17, "color": "#222", "offset": 7, "anchor": "middle"}
  }
}
